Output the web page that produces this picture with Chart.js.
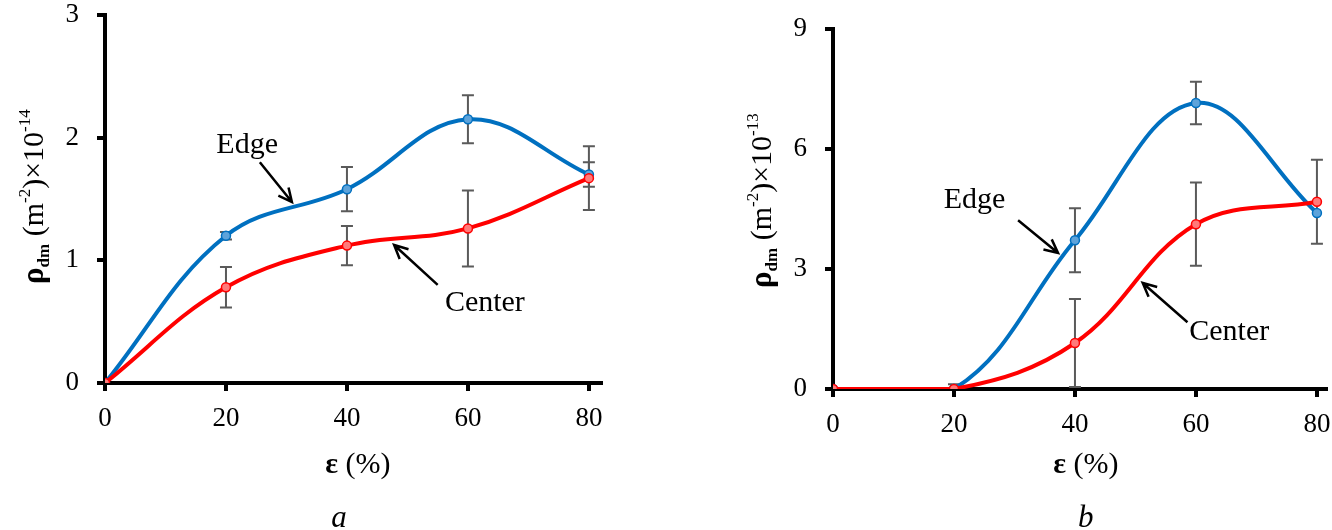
<!DOCTYPE html>
<html>
<head>
<meta charset="utf-8">
<script src="https://cdn.jsdelivr.net/npm/chart.js@4.4.1/dist/chart.umd.min.js"></script>
<style>
  html, body { margin: 0; padding: 0; background: #fff; }
  #wrap { position: relative; width: 1332px; height: 530px; background: #fff; }
  .panel { position: absolute; top: 0; width: 666px; height: 530px; }
</style>
</head>
<body>
<div id="wrap">
  <div class="panel" style="left:0"><canvas id="chartA"></canvas></div>
  <div class="panel" style="left:666px"><canvas id="chartB"></canvas></div>
</div>
<script>
// strain values (x) shared by both panels
var strain = [0, 20, 40, 60, 80];
var xTicks = [0, 20, 40, 60, 80];

// panel a: rho_dm x 10^-14
var edgeA = [0, 1.20, 1.58, 2.15, 1.70];
var centerA = [0, 0.78, 1.12, 1.26, 1.67];
var edgeErrA = [0, 0.03, 0.18, 0.195, 0.10];
var centerErrA = [0, 0.165, 0.16, 0.31, 0.26];
var yTicksA = [0, 1, 2, 3];

// panel b: rho_dm x 10^-13
var edgeB = [0, 0, 3.72, 7.15, 4.40];
var centerB = [0, 0, 1.15, 4.12, 4.68];
var edgeErrB = [0, 0.12, 0.80, 0.53, 0];
var centerErrB = [0, 0, 1.10, 1.04, 1.05];
var yTicksB = [0, 3, 6, 9];

var SERIF = '"Liberation Serif", "Times New Roman", serif';
var BLUE = '#0070C0';
var RED = '#FF0000';

function toPoints(xs, ys) {
    return xs.map(function (x, i) { return { x: x, y: ys[i] }; });
}

// draws error bars, annotations and the axis titles
var extrasPlugin = {
    id: 'extras',
    beforeDatasetsDraw: function (chart) {
        var ctx = chart.ctx, xs = chart.scales.x, ys = chart.scales.y;
        var area = chart.chartArea;
        ctx.save();
        ctx.beginPath();
        ctx.rect(area.left - 10, area.top - 5, area.right - area.left + 20, area.bottom - area.top + 5);
        ctx.clip();
        ctx.strokeStyle = '#5a5a5a';
        ctx.lineWidth = 2;
        chart.data.datasets.forEach(function (ds) {
            (ds.errors || []).forEach(function (e, i) {
                if (!e) return;
                var px = xs.getPixelForValue(ds.data[i].x);
                var top = ys.getPixelForValue(ds.data[i].y + e);
                var bot = ys.getPixelForValue(ds.data[i].y - e);
                ctx.beginPath();
                ctx.moveTo(px, top); ctx.lineTo(px, bot);
                ctx.moveTo(px - 6, top); ctx.lineTo(px + 6, top);
                ctx.moveTo(px - 6, bot); ctx.lineTo(px + 6, bot);
                ctx.stroke();
            });
        });
        ctx.restore();
    },
    afterDraw: function (chart) {
        var opts = chart.options.plugins.extras;
        var ctx = chart.ctx, xs = chart.scales.x, ys = chart.scales.y;
        var area = chart.chartArea;
        ctx.save();
        ctx.fillStyle = '#000';
        ctx.strokeStyle = '#000';

        // series labels with arrows
        opts.notes.forEach(function (n) {
            ctx.font = '30px ' + SERIF;
            ctx.textAlign = 'center';
            ctx.textBaseline = 'middle';
            ctx.fillText(n.text, xs.getPixelForValue(n.at[0]), ys.getPixelForValue(n.at[1]));
            var x1 = xs.getPixelForValue(n.from[0]), y1 = ys.getPixelForValue(n.from[1]);
            var x2 = xs.getPixelForValue(n.to[0]), y2 = ys.getPixelForValue(n.to[1]);
            var ang = Math.atan2(y2 - y1, x2 - x1);
            ctx.lineWidth = 2.5;
            ctx.beginPath();
            ctx.moveTo(x1, y1); ctx.lineTo(x2, y2);
            ctx.moveTo(x2 - 15 * Math.cos(ang - 0.45), y2 - 15 * Math.sin(ang - 0.45));
            ctx.lineTo(x2, y2);
            ctx.lineTo(x2 - 15 * Math.cos(ang + 0.45), y2 - 15 * Math.sin(ang + 0.45));
            ctx.stroke();
        });

        // x title: bold epsilon + (%)
        ctx.textAlign = 'left';
        ctx.textBaseline = 'alphabetic';
        var cx = xs.getPixelForValue(opts.xTitleAt);
        ctx.font = 'bold 30px ' + SERIF;
        var w1 = ctx.measureText('ε').width;
        ctx.font = '30px ' + SERIF;
        var w2 = ctx.measureText(' (%)').width;
        var sx = cx - (w1 + w2) / 2;
        ctx.font = 'bold 30px ' + SERIF;
        ctx.fillText('ε', sx, 473);
        ctx.font = '30px ' + SERIF;
        ctx.fillText(' (%)', sx + w1, 473);

        // panel letter
        ctx.font = 'italic 31px ' + SERIF;
        ctx.textAlign = 'center';
        ctx.fillText(opts.letter, xs.getPixelForValue(opts.letterAt), 527);

        // rotated y title
        ctx.translate(area.left - 62, opts.yTitleBottom);
        ctx.rotate(-Math.PI / 2);
        ctx.textAlign = 'left';
        var pos = 0;
        function part(text, font, dy) {
            ctx.font = font;
            ctx.fillText(text, pos, dy);
            pos += ctx.measureText(text).width;
        }
        part('ρ', 'bold 31px ' + SERIF, 0);
        part('dm', 'bold 17px ' + SERIF, 6);
        part(' (m', '30px ' + SERIF, 0);
        part('-2', '17px ' + SERIF, -13);
        part(')×10', '30px ' + SERIF, 0);
        part(opts.power, '17px ' + SERIF, -13);
        ctx.restore();
    }
};

function makeChart(id, cfg) {
    var ctx = document.getElementById(id).getContext('2d');
    return new Chart(ctx, {
        type: 'line',
        data: {
            datasets: [{
                label: 'Edge',
                data: toPoints(strain, cfg.edge),
                errors: cfg.edgeErr,
                borderColor: BLUE,
                backgroundColor: BLUE,
                pointBackgroundColor: '#5ea3da',
                pointBorderColor: BLUE,
                order: 2
            }, {
                label: 'Center',
                data: toPoints(strain, cfg.center),
                errors: cfg.centerErr,
                borderColor: RED,
                backgroundColor: RED,
                pointBackgroundColor: '#ff7a7a',
                pointBorderColor: RED,
                order: 1
            }]
        },
        options: {
            responsive: true,
            maintainAspectRatio: false,
            animation: false,
            events: [],
            layout: { padding: { top: cfg.top, right: cfg.right, left: 0, bottom: 0 } },
            elements: {
                line: { borderWidth: 4, tension: 0.38, cubicInterpolationMode: 'default' },
                point: { radius: 4.5, borderWidth: 1.5 }
            },
            plugins: {
                legend: { display: false },
                tooltip: { enabled: false },
                extras: {
                    notes: cfg.notes,
                    xTitleAt: cfg.xTitleAt,
                    letter: cfg.letter,
                    letterAt: cfg.letterAt,
                    yTitleBottom: cfg.yTitleBottom,
                    power: cfg.power
                }
            },
            scales: {
                x: {
                    type: 'linear',
                    min: 0,
                    max: cfg.xMax,
                    afterBuildTicks: function (scale) {
                        scale.ticks = xTicks.map(function (v) { return { value: v }; });
                    },
                    afterFit: function (scale) {
                        scale.height = 530 - cfg.bottom;
                        scale.paddingLeft = 0;
                        scale.paddingRight = 0;
                    },
                    border: { display: true, color: '#000', width: 4 },
                    grid: { drawOnChartArea: false, drawTicks: true, tickLength: 8, color: '#000', lineWidth: 4 },
                    ticks: {
                        maxRotation: 0, minRotation: 0, padding: 12,
                        color: '#000',
                        font: { family: SERIF, size: 27 }
                    }
                },
                y: {
                    min: 0,
                    max: cfg.yTicks[cfg.yTicks.length - 1],
                    afterBuildTicks: function (scale) {
                        scale.ticks = cfg.yTicks.map(function (v) { return { value: v }; });
                    },
                    afterFit: function (scale) {
                        scale.width = cfg.left;
                        scale.paddingTop = 0;
                        scale.paddingBottom = 0;
                    },
                    border: { display: true, color: '#000', width: 4 },
                    grid: { drawOnChartArea: false, drawTicks: true, tickLength: 8, color: '#000', lineWidth: 4 },
                    ticks: {
                        padding: 18,
                        color: '#000',
                        font: { family: SERIF, size: 27 }
                    }
                }
            }
        },
        plugins: [extrasPlugin]
    });
}

makeChart('chartA', {
    edge: edgeA, center: centerA, edgeErr: edgeErrA, centerErr: centerErrA,
    yTicks: yTicksA, xMax: 82,
    left: 105, top: 15, bottom: 383, right: 65,
    xTitleAt: 41.8, letter: 'a', letterAt: 38.7, yTitleBottom: 284, power: '-14',
    notes: [
        { text: 'Edge', at: [23.5, 1.94], from: [25.6, 1.80], to: [30.9, 1.475] },
        { text: 'Center', at: [62.8, 0.65], from: [55.0, 0.80], to: [47.8, 1.125] }
    ]
});

makeChart('chartB', {
    edge: edgeB, center: centerB, edgeErr: edgeErrB, centerErr: centerErrB,
    yTicks: yTicksB, xMax: 81.5,
    left: 167, top: 29, bottom: 389, right: 4,
    xTitleAt: 41.8, letter: 'b', letterAt: 41.8, yTitleBottom: 288, power: '-13',
    notes: [
        { text: 'Edge', at: [23.4, 4.72], from: [30.6, 4.22], to: [37.2, 3.40] },
        { text: 'Center', at: [65.5, 1.42], from: [58.6, 1.67], to: [51.2, 2.65] }
    ]
});
</script>
</body>
</html>
